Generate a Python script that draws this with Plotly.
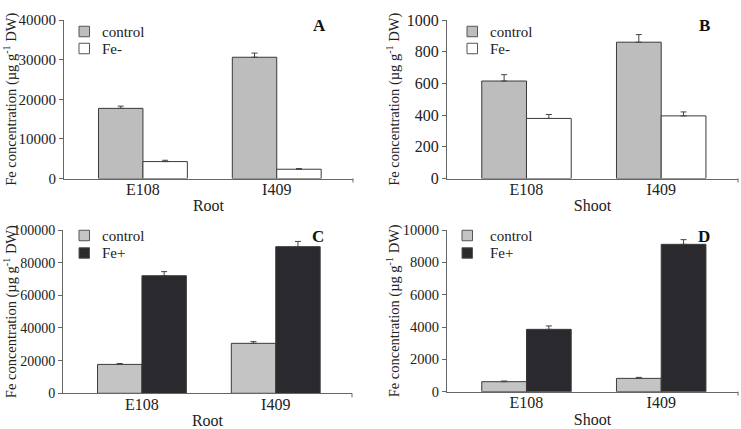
import plotly.graph_objects as go

W, H = 741, 429

genotypes = ["E108", "I409"]

# Panel A: root, control vs Fe-
root_control = [17700, 30600]
root_control_err = [560, 1050]
root_feminus = [4270, 2340]
root_feminus_err = [330, 170]

# Panel B: shoot, control vs Fe-
shoot_control = [615, 860]
shoot_control_err = [40, 48]
shoot_feminus = [379, 395]
shoot_feminus_err = [25, 25]

# Panel C: root, control vs Fe+
root_feplus = [72000, 89800]
root_feplus_err = [2500, 3200]

# Panel D: shoot, control vs Fe+
shoot_control_d = [619, 825]
shoot_control_d_err = [41, 60]
shoot_feplus = [3856, 9113]
shoot_feplus_err = [210, 290]

y_ranges = [40000, 1000, 100000, 10000]
y_dticks = [10000, 200, 20000, 2000]
panel_letters = ["A", "B", "C", "D"]
x_titles = ["Root", "Shoot", "Root", "Shoot"]

GREY_AB = "#bdbdbd"
GREY_CD = "#c4c4c4"
DARK = "#2a2a2e"
WHITE = "#ffffff"
EDGE = "#3a3a3a"
FONT = "Liberation Serif"

# pixel boxes of plot areas: (left, right, top, bottom)
boxes = [(64, 353, 20, 178.5), (447, 738, 20, 178.5),
         (63, 352, 230, 393.3), (447, 738, 230, 391.7)]
ytick_sizes = [15, 16, 14, 14.5]
# legend layout per panel: (square left, text left, row1 center, row2 center) in px
legend_pos = [(79, 100, 31.5, 48.5), (467, 488, 31.5, 48.5),
              (79, 100, 235.5, 253), (462, 488, 235.5, 253)]

fig = go.Figure()

panels = [
    (root_control, root_control_err, GREY_AB, "control", root_feminus, root_feminus_err, WHITE, "Fe-"),
    (shoot_control, shoot_control_err, GREY_AB, "control", shoot_feminus, shoot_feminus_err, WHITE, "Fe-"),
    (root_control, root_control_err, GREY_CD, "control", root_feplus, root_feplus_err, DARK, "Fe+"),
    (shoot_control_d, shoot_control_d_err, GREY_CD, "control", shoot_feplus, shoot_feplus_err, DARK, "Fe+"),
]

shapes = []
annotations = []

for i, (v1, e1, c1, n1, v2, e2, c2, n2) in enumerate(panels):
    idx = "" if i == 0 else str(i + 1)
    sq_l, tx_l, r1, r2 = legend_pos[i]
    for vals, errs, col, name, rc in [(v1, e1, c1, n1, r1), (v2, e2, c2, n2, r2)]:
        fig.add_trace(go.Bar(
            x=genotypes, y=vals, name=name, showlegend=False,
            marker=dict(color=col, line=dict(color=EDGE, width=1)),
            error_y=dict(type="data", symmetric=False, array=errs,
                         arrayminus=[0] * len(errs), color="#444", thickness=1, width=3),
            xaxis="x" + idx, yaxis="y" + idx,
        ))
        # legend key
        shapes.append(dict(
            type="rect", xref="paper", yref="paper",
            x0=sq_l / W, x1=(sq_l + 10.5) / W,
            y0=1 - (rc + 5.25) / H, y1=1 - (rc - 5.25) / H,
            fillcolor=col, line=dict(color="#555", width=1),
        ))
        annotations.append(dict(
            text=name, x=tx_l / W, y=1 - rc / H, xref="paper", yref="paper",
            showarrow=False, xanchor="left", yanchor="middle",
            font=dict(size=15, family=FONT, color="#222"),
        ))

layout = dict(
    width=W, height=H, margin=dict(l=0, r=0, t=0, b=0, autoexpand=False),
    paper_bgcolor="white", plot_bgcolor="white",
    barmode="group", bargap=0.336, bargroupgap=0,
    font=dict(family=FONT, color="#222", size=16),
    showlegend=False,
)

for i, (l, r, t, b) in enumerate(boxes):
    idx = "" if i == 0 else str(i + 1)
    ph = b - t
    layout["xaxis" + idx] = dict(
        domain=[l / W, r / W], anchor="y" + idx, type="category",
        range=[-0.59, 1.57], showline=True, linecolor="#666", linewidth=1,
        ticks="", tickfont=dict(size=16, family=FONT), ticklabelstandoff=-4,
        title=dict(text=x_titles[i], font=dict(size=16, family=FONT), standoff=3),
        showgrid=False, zeroline=False, fixedrange=True, automargin=False,
    )
    layout["yaxis" + idx] = dict(
        domain=[1 - b / H, 1 - t / H], anchor="x" + idx,
        range=[0, y_ranges[i]], dtick=y_dticks[i], tick0=0, tickformat="d",
        showline=True, linecolor="#666", linewidth=1,
        ticks="outside", ticklen=4, tickcolor="#666",
        tickfont=dict(size=ytick_sizes[i], family=FONT), showgrid=False, zeroline=False,
        fixedrange=True, automargin=False,
    )
    # small end tick on the category axis
    shapes.append(dict(
        type="line", xref="x%s domain" % idx, yref="y%s domain" % idx,
        x0=1, x1=1, y0=0, y1=-4 / ph, line=dict(color="#666", width=1),
    ))
    annotations.append(dict(
        text="<b>%s</b>" % panel_letters[i], x=(r - 34) / W, y=1 - (t + 6) / H,
        xref="paper", yref="paper", showarrow=False,
        font=dict(size=17, family=FONT, color="#111"), xanchor="center", yanchor="middle",
    ))
    annotations.append(dict(
        text="Fe concentration (µg g<sup>-1</sup> DW)", textangle=-90,
        x=(l - 53.5 + (64 - l if l < 100 else 0)) / W if l < 100 else (l - 53.5) / W,
        y=1 - ((t + b) / 2) / H, xref="paper", yref="paper",
        showarrow=False, font=dict(size=14.5, family=FONT, color="#222"),
        xanchor="center", yanchor="middle",
    ))

layout["shapes"] = shapes
layout["annotations"] = annotations
fig.update_layout(**layout)
fig.write_html("out.html")
